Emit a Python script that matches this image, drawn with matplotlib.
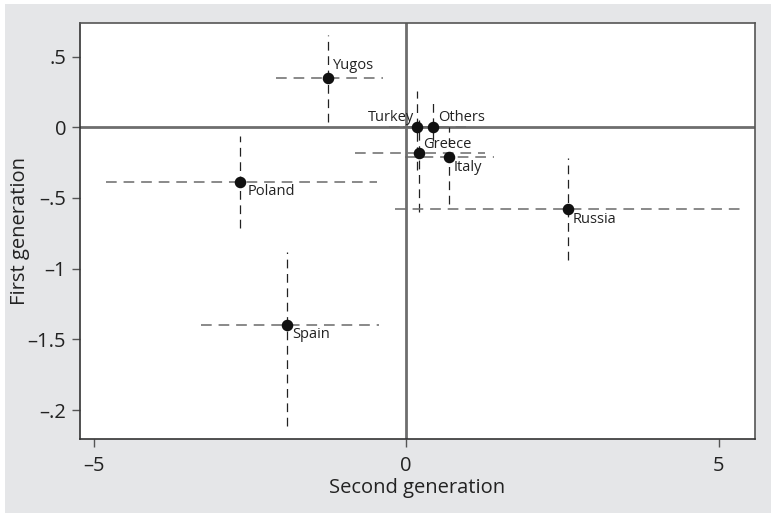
import matplotlib
matplotlib.use("Agg")
from matplotlib import pyplot as plt
from matplotlib.patches import Rectangle

# country estimates (second generation on x, first generation on y)
countries = ["Yugos", "Turkey", "Others", "Greece", "Italy", "Poland", "Russia", "Spain"]
second_gen = [-1.25, 0.18, 0.43, 0.21, 0.69, -2.66, 2.58, -1.90]
first_gen = [0.35, 0.0, 0.0, -0.18, -0.21, -0.39, -0.58, -1.40]

# confidence intervals
x_lo = [-2.08, -0.28, -0.05, -0.82, -0.02, -4.80, -0.18, -3.28]
x_hi = [-0.37, 0.55, 0.95, 1.26, 1.40, -0.46, 5.36, -0.43]
y_lo = [0.04, -0.30, -0.10, -0.60, -0.54, -0.71, -0.94, -2.11]
y_hi = [0.65, 0.26, 0.17, 0.05, 0.00, -0.06, -0.22, -0.88]

# label offsets in pixels (dx, dy, ha, va)
label_pos = {
    "Yugos": (5, 5, "left", "bottom"),
    "Turkey": (-3, 2, "right", "bottom"),
    "Others": (5, 2, "left", "bottom"),
    "Greece": (4, 1, "left", "bottom"),
    "Italy": (4, -3, "left", "top"),
    "Poland": (8, -2, "left", "top"),
    "Russia": (5, -3, "left", "top"),
    "Spain": (5, -2, "left", "top"),
}

yticks = [0.5, 0, -0.5, -1, -1.5, -2]
ytick_labels = [".5", "0", "\u2013.5", "\u20131", "\u20131.5", "\u2013.2"]
xticks = [-5, 0, 5]
xtick_labels = ["\u20135", "0", "5"]

plt.rcParams["font.family"] = ["Open Sans", "DejaVu Sans"]

fig = plt.figure(figsize=(7.71, 5.13), dpi=100, facecolor="white")
fig.patches.append(Rectangle((5 / 771, 0), 1, 1 - 4 / 513, transform=fig.transFigure,
                             facecolor="#e5e6e8", edgecolor="none", zorder=-10))

ax = fig.add_axes([80 / 771, 1 - 439 / 513, 675 / 771, 416 / 513])
ax.set_facecolor("white")
ax.set_xlim(-5.22, 5.58)
ax.set_ylim(-2.205, 0.738)

ax.axhline(0, color="#6e6e6e", linewidth=2, zorder=1)
ax.axvline(0, color="#6e6e6e", linewidth=2, zorder=1)

for i in range(len(countries)):
    ax.plot([x_lo[i], x_hi[i]], [first_gen[i], first_gen[i]], color="#6a6a6a",
            linestyle=(0, (7, 4.5)), linewidth=1.1, zorder=2)
    ax.plot([second_gen[i], second_gen[i]], [y_lo[i], y_hi[i]], color="#222222",
            linestyle=(0, (7, 4.5)), linewidth=0.9, zorder=2)

ax.plot(second_gen, first_gen, "o", color="#111111", markersize=7.3, zorder=3)

for name, xv, yv in zip(countries, second_gen, first_gen):
    dx, dy, ha, va = label_pos[name]
    ax.annotate(name, (xv, yv), xytext=(dx, dy), textcoords="offset pixels",
                ha=ha, va=va, fontsize=10.5, color="#222222", zorder=4)

ax.set_xticks(xticks)
ax.set_xticklabels(xtick_labels)
ax.set_yticks(yticks)
ax.set_yticklabels(ytick_labels)
ax.tick_params(direction="out", length=6, width=1, color="#555555",
               labelsize=14.5, labelcolor="#222222")
ax.tick_params(axis="x", pad=6)
ax.tick_params(axis="y", pad=4)

for side in ["top", "right"]:
    ax.spines[side].set_color("#555555")
    ax.spines[side].set_linewidth(1.2)
for side in ["left", "bottom"]:
    ax.spines[side].set_color("#333333")
    ax.spines[side].set_linewidth(1.2)

ax.set_xlabel("Second generation", fontsize=14.5, color="#222222", labelpad=2)
ax.set_ylabel("First generation", fontsize=14.5, color="#222222", labelpad=-2)

fig.savefig("out.png", dpi=100)
